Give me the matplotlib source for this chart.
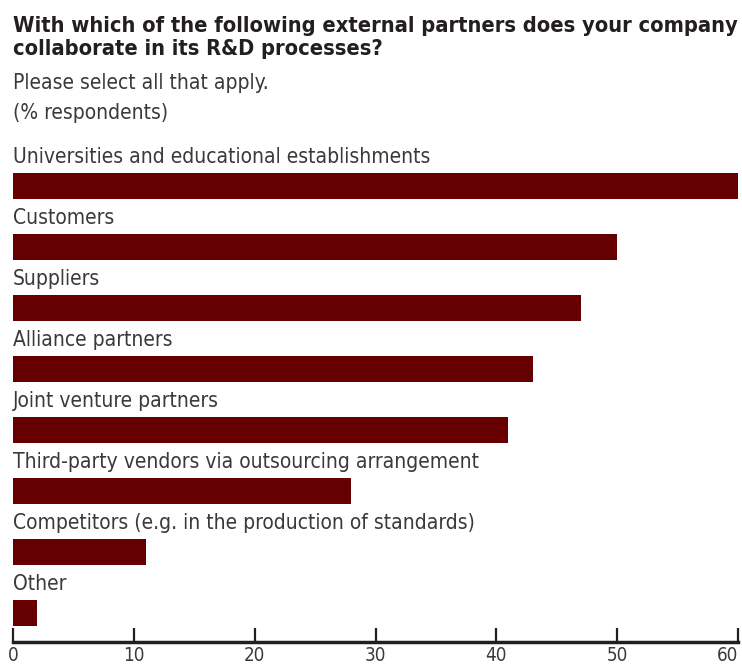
import matplotlib
matplotlib.use("Agg")
import matplotlib.pyplot as plt

categories = [
    "Universities and educational establishments",
    "Customers",
    "Suppliers",
    "Alliance partners",
    "Joint venture partners",
    "Third-party vendors via outsourcing arrangement",
    "Competitors (e.g. in the production of standards)",
    "Other",
]
values = [60, 50, 47, 43, 41, 28, 11, 2]
xticks = [0, 10, 20, 30, 40, 50, 60]

title = "With which of the following external partners does your company\ncollaborate in its R&D processes?"
subtitle = "Please select all that apply."
unit = "(% respondents)"

plt.rcParams["font.family"] = ["DejaVu Sans"]
plt.rcParams["font.stretch"] = "condensed"

W, H = 742, 666
fig = plt.figure(figsize=(W / 100, H / 100), dpi=100)
# axes box in pixels: left 13, right 738, top 140, bottom 642
ax = fig.add_axes([13 / W, (H - 642) / H, (738 - 13) / W, (642 - 140) / H])

bar_color = "#660000"
ypos = list(range(len(categories)))
ax.barh(ypos, values, height=0.43, color=bar_color)
ax.set_xlim(0, 60)
ax.set_ylim(7.475, -0.754)

for y, lab in zip(ypos, categories):
    ax.text(0, y - 0.47, lab, ha="left", va="center", fontsize=15,
            color="#3a3a3a", fontstretch="condensed")

for s in ["top", "right", "left"]:
    ax.spines[s].set_visible(False)
ax.spines["bottom"].set_linewidth(2.5)
ax.spines["bottom"].set_color("#231f20")
ax.set_yticks([])
ax.set_xticks(xticks)
ax.tick_params(axis="x", direction="in", length=10, width=1.6, color="#231f20",
               labelsize=13.5, labelcolor="#3a3a3a", pad=3)
ticklabs = ax.get_xticklabels()
ticklabs[-1].set_horizontalalignment("right")
for t in ticklabs:
    t.set_fontstretch("condensed")

fig.text(13 / W, 1 - 16 / H, title, ha="left", va="top", fontsize=15.7,
         fontweight="bold", color="#231f20", linespacing=1.2,
         fontstretch="condensed")
fig.text(13 / W, 1 - 73 / H, subtitle, ha="left", va="top", fontsize=15,
         color="#3a3a3a", fontstretch="condensed")
fig.text(13 / W, 1 - 103 / H, unit, ha="left", va="top", fontsize=15,
         color="#3a3a3a", fontstretch="condensed")

fig.savefig("out.png", dpi=100)
